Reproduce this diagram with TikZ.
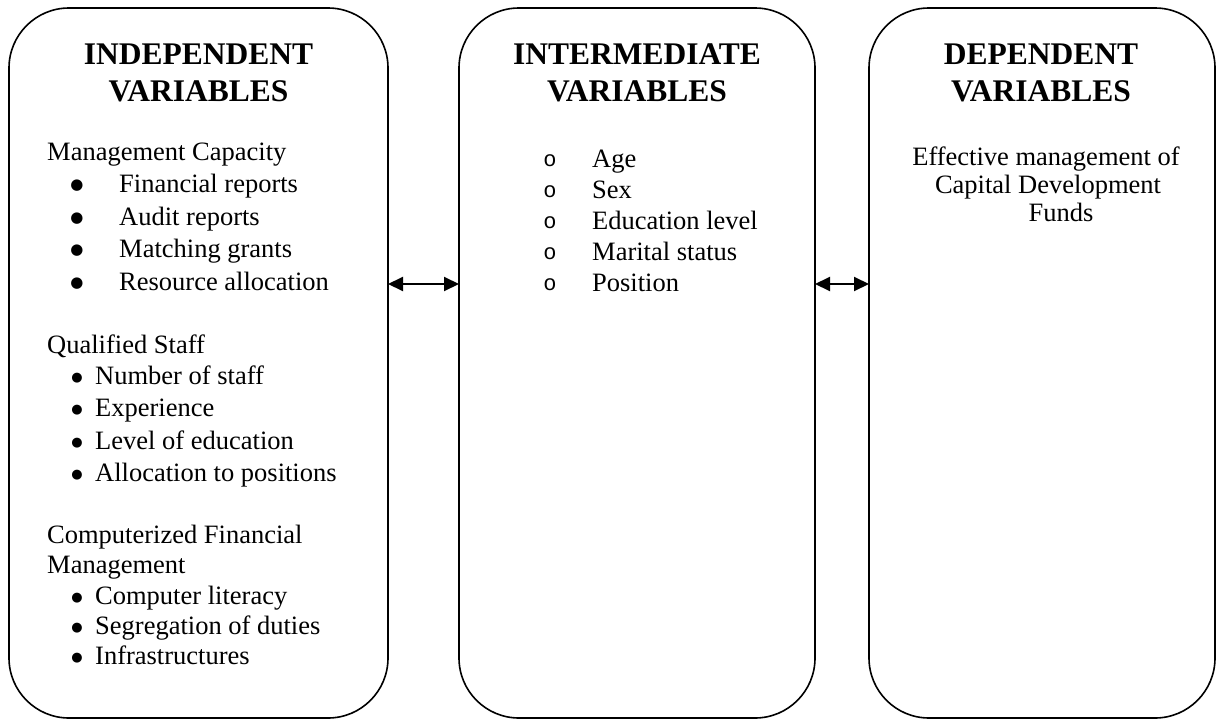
\documentclass[tikz,border=0pt]{standalone}
\usepackage{fontspec}
\setmainfont{Liberation Serif}
\newfontfamily\bulletmono{Liberation Mono}
\newfontfamily\bulletsans{DejaVu Sans}
\usetikzlibrary{arrows.meta}
\begin{document}
\begin{tikzpicture}[x=1pt,y=-1pt,
  panel/.style={draw=black, line width=1.6pt, rounded corners=60pt, inner sep=0pt, outer sep=0pt, minimum height=710pt},
  title/.style={font=\fontsize{31.5}{37}\selectfont\bfseries, anchor=base, inner sep=0pt},
  txt/.style={font=\fontsize{26.5}{32}\selectfont, anchor=base west, inner sep=0pt},
  ctxt/.style={font=\fontsize{26.5}{32}\selectfont, anchor=base, inner sep=0pt},
  dot/.style={font=\fontsize{15}{18}\selectfont\bulletsans, anchor=base, inner sep=0pt, yshift=3pt},
  sdot/.style={font=\fontsize{13}{16}\selectfont\bulletsans, anchor=base, inner sep=0pt, yshift=3pt},
  ring/.style={font=\fontsize{22}{26}\selectfont\bulletmono, anchor=base, inner sep=0pt},
  link/.style={{Triangle[length=15pt,width=14pt]}-{Triangle[length=15pt,width=14pt]}, line width=2pt}
]
\useasboundingbox (0,0) rectangle (1219,720);

% panels
\node[panel, minimum width=379pt] (indep) at (198.5,363) {};
\node[panel, minimum width=356pt] (inter) at (637,363) {};
\node[panel, minimum width=346pt] (dep) at (1042,363) {};

% connectors
\coordinate (ay) at (0,284);
\draw[link] (indep.east |- ay) -- (inter.west |- ay);
\draw[link] (inter.east |- ay) -- (dep.west |- ay);

% titles
\node[title] (t1a) at (198.5,64) {INDEPENDENT};
\node[title] (t1b) at (198.5,101) {VARIABLES};
\node[title] (t2a) at (637,64) {INTERMEDIATE};
\node[title] (t2b) at (637,101) {VARIABLES};
\node[title] (t3a) at (1041,64) {DEPENDENT};
\node[title] (t3b) at (1041,101) {VARIABLES};

% left panel: management capacity
\node[txt] (mc) at (47,160) {Management Capacity};
\node[dot] (b1) at (77,192) {●}; \node[txt] (i1) at (119,192) {Financial reports};
\node[dot] (b2) at (77,225) {●}; \node[txt] (i2) at (119,225) {Audit reports};
\node[dot] (b3) at (77,257) {●}; \node[txt] (i3) at (119,257) {Matching grants};
\node[dot] (b4) at (77,290) {●}; \node[txt] (i4) at (119,290) {Resource allocation};

% qualified staff
\node[txt] (qs) at (47,353) {Qualified Staff};
\node[sdot] (b5) at (77,384) {●}; \node[txt] (i5) at (95,384) {Number of staff};
\node[sdot] (b6) at (77,416) {●}; \node[txt] (i6) at (95,416) {Experience};
\node[sdot] (b7) at (77,449) {●}; \node[txt] (i7) at (95,449) {Level of education};
\node[sdot] (b8) at (77,481) {●}; \node[txt] (i8) at (95,481) {Allocation to positions};

% computerized financial management
\node[txt] (cf1) at (47,543) {Computerized Financial};
\node[txt] (cf2) at (47,573) {Management};
\node[sdot] (b9) at (77,604) {●}; \node[txt] (i9) at (95,604) {Computer literacy};
\node[sdot] (b10) at (77,634) {●}; \node[txt] (i10) at (95,634) {Segregation of duties};
\node[sdot] (b11) at (77,664) {●}; \node[txt] (i11) at (95,664) {Infrastructures};

% middle panel
\node[ring] (r1) at (550,166) {o}; \node[txt] (m1) at (592,167) {Age};
\node[ring] (r2) at (550,197) {o}; \node[txt] (m2) at (592,198) {Sex};
\node[ring] (r3) at (550,228) {o}; \node[txt] (m3) at (592,229) {Education level};
\node[ring] (r4) at (550,259) {o}; \node[txt] (m4) at (592,260) {Marital status};
\node[ring] (r5) at (550,290) {o}; \node[txt] (m5) at (592,291) {Position};

% right panel
\node[ctxt] (d1) at (1046,165) {Effective management of};
\node[ctxt] (d2) at (1048,193) {Capital Development};
\node[ctxt] (d3) at (1061,221) {Funds};
\end{tikzpicture}
\end{document}
